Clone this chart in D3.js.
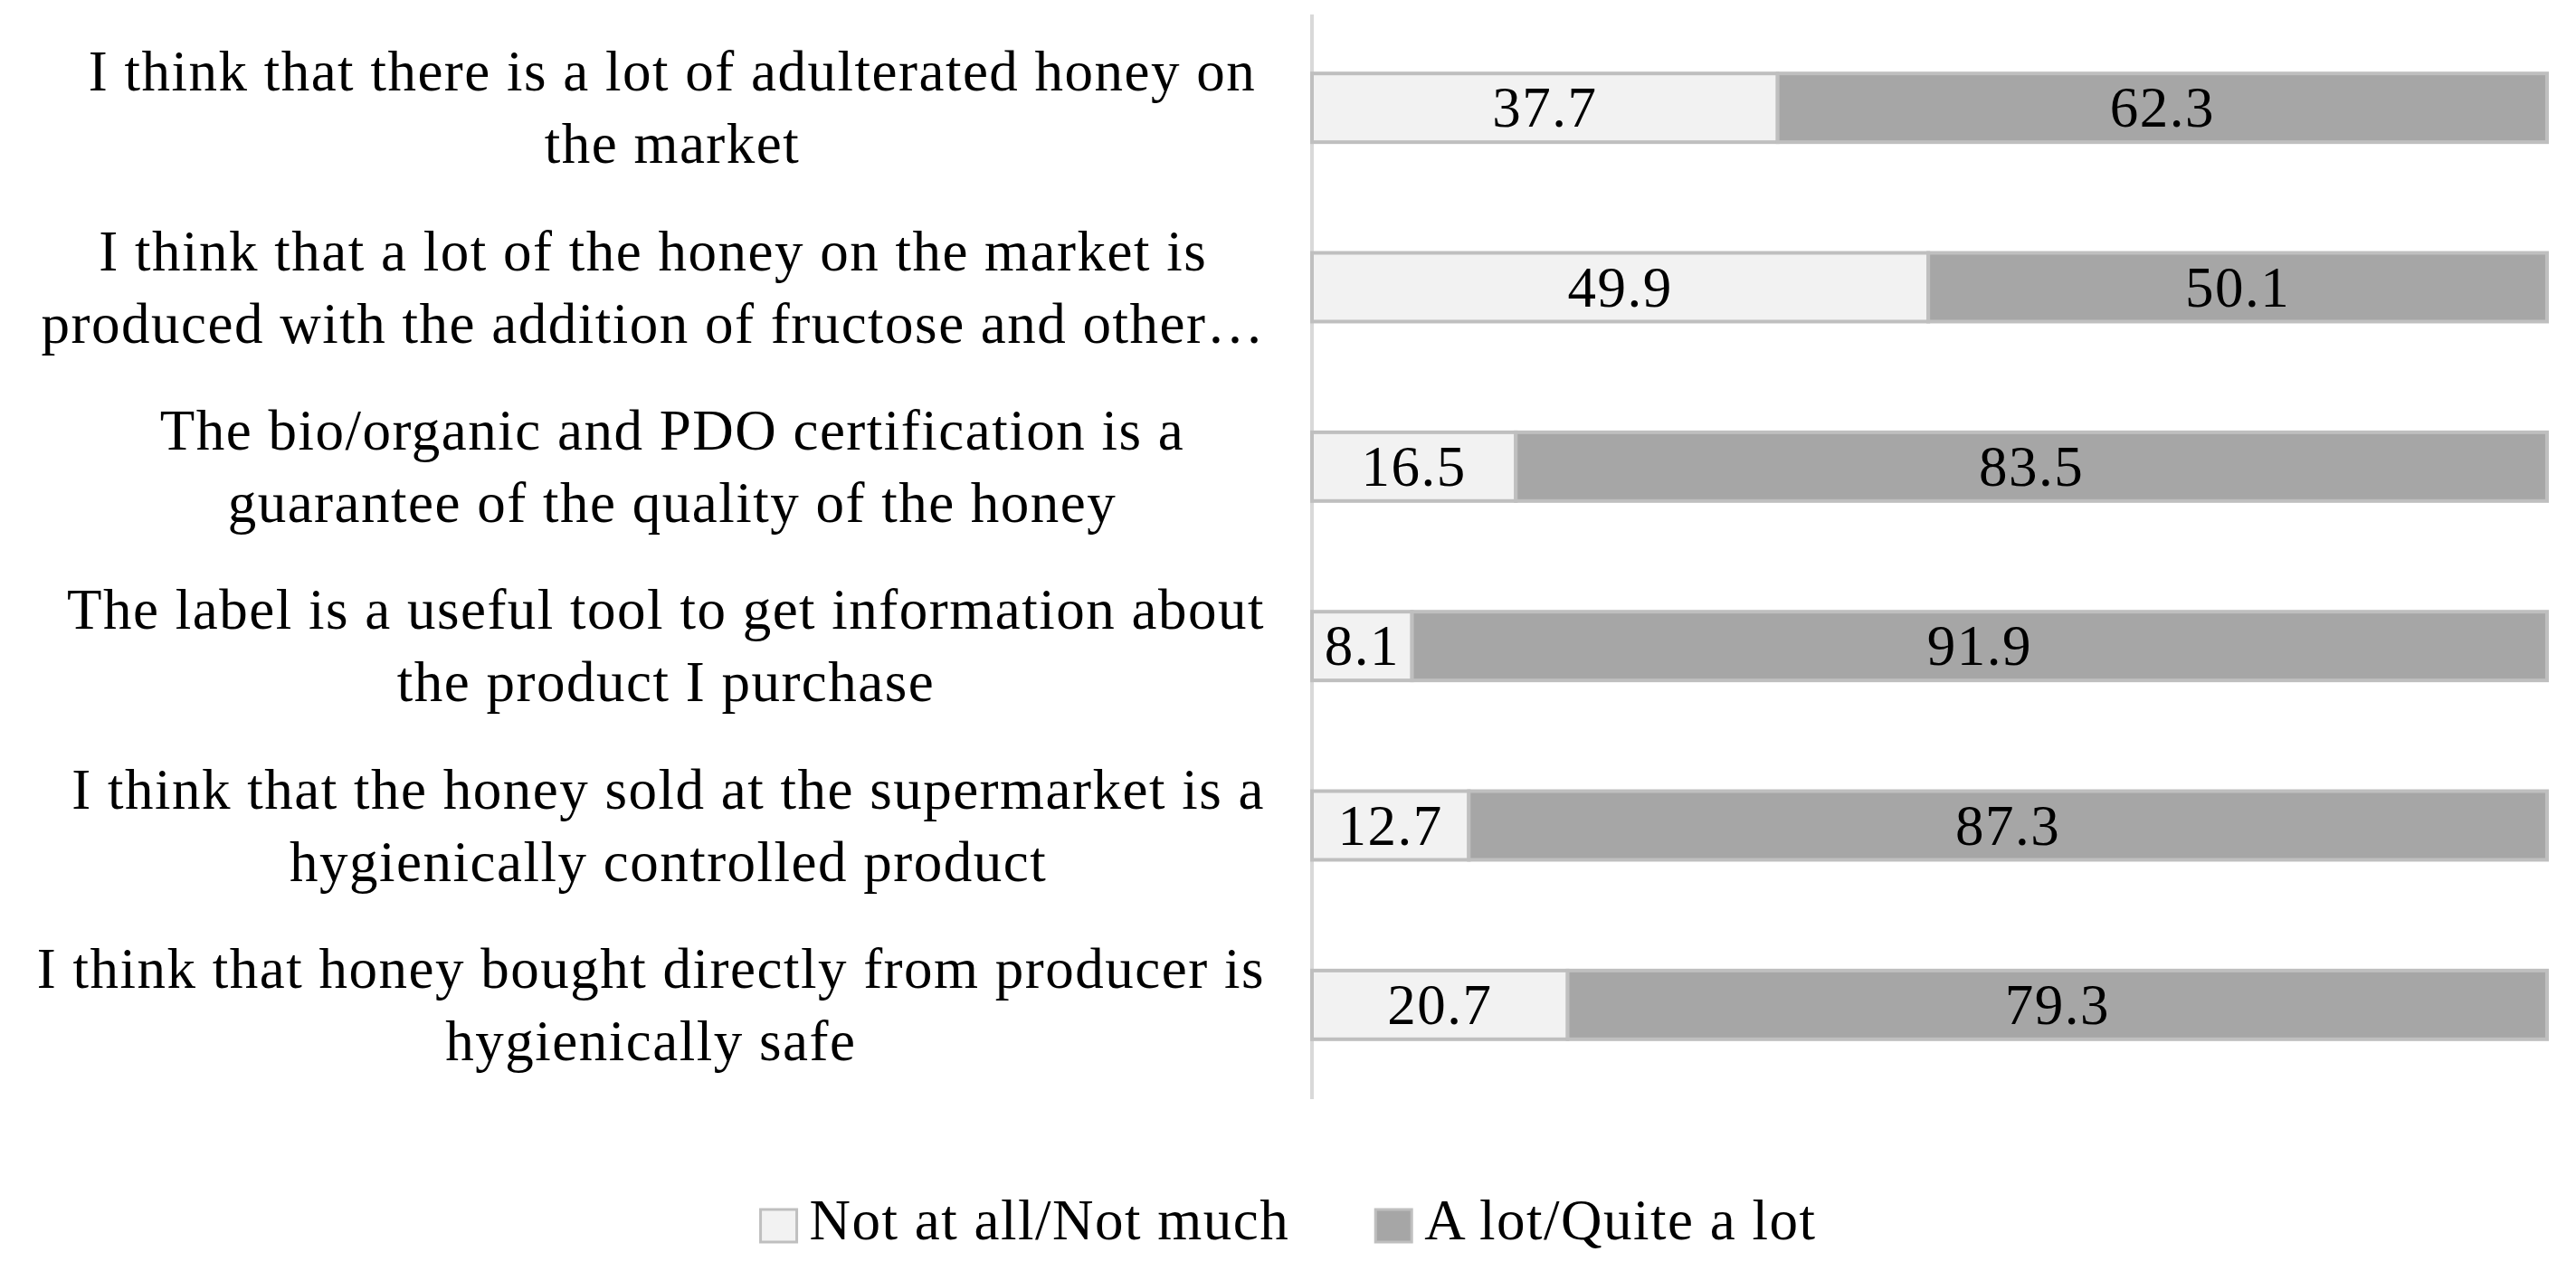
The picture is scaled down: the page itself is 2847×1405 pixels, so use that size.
<!DOCTYPE html>
<html>
<head>
<meta charset="utf-8">
<script src="https://cdn.jsdelivr.net/npm/d3@7"></script>
<style>
  html, body { margin: 0; padding: 0; background: #fff; }
  svg { display: block; }
  text { font-family: "Liberation Serif", "Times New Roman", serif; fill: #000; }
</style>
</head>
<body>
<svg class="chart"></svg>
<script>
const [width, height] = [2847, 1405]

// Statements, already wrapped the way the chart shows them.
const categories = [
	['I think that there is a lot of adulterated honey on', 'the market'],
	['I think that a lot of the honey on the market is', 'produced with the addition of fructose and other\u2026'],
	['The bio/organic and PDO certification is a', 'guarantee of the quality of the honey'],
	['The label is a useful tool to get information about', 'the product I purchase'],
	['I think that the honey sold at the supermarket is a', 'hygienically controlled product'],
	['I think that honey bought directly from producer is', 'hygienically safe'],
]
const notMuch = [37.7, 49.9, 16.5, 8.1, 12.7, 20.7]
const aLot = [62.3, 50.1, 83.5, 91.9, 87.3, 79.3]
const seriesNames = ['Not at all/Not much', 'A lot/Quite a lot']
const seriesColors = ['#f2f2f2', '#a6a6a6']

const fontSize = 63
const spacing = '1.5px'

const svg = d3.select('svg.chart')
	.attr('width', width)
	.attr('height', height)

const x = d3.scaleLinear()
	.domain([0, 100])
	.range([1450, 2815])

const y = d3.scaleBand()
	.domain(d3.range(categories.length))
	.range([20, 1210])
	.paddingInner(0.617)
	.paddingOuter(0.3085)

// category axis, just the line
svg.append('g')
	.attr('transform', `translate(${x(0)},0)`)
	.call(d3.axisLeft(y).tickSize(0).tickFormat(''))
	.call(g => g.select('.domain')
		.attr('stroke', '#d9d9d9')
		.attr('stroke-width', 4)
		.attr('d', 'M0,16V1215'))

const rows = categories.map((c, i) => ({ i, parts: [notMuch[i], aLot[i]] }))

const row = svg.selectAll('g.row')
		.data(rows)
	.enter().append('g')
		.attr('class', 'row')

row.selectAll('rect')
		.data(d => {
			let acc = 0
			return d.parts.map((v, k) => {
				const seg = { i: d.i, k, v, x0: acc, x1: acc + v }
				acc += v
				return seg
			})
		})
	.enter().append('rect')
		.attr('x', d => x(d.x0))
		.attr('y', d => y(d.i))
		.attr('width', d => x(d.x1) - x(d.x0))
		.attr('height', y.bandwidth())
		.attr('fill', d => seriesColors[d.k])
		.attr('stroke', '#bfbfbf')
		.attr('stroke-width', 4)

row.selectAll('text.value')
		.data(d => {
			let acc = 0
			return d.parts.map((v, k) => {
				const seg = { i: d.i, v, mid: acc + v / 2 }
				acc += v
				return seg
			})
		})
	.enter().append('text')
		.attr('class', 'value')
		.attr('x', d => x(d.mid))
		.attr('y', d => y(d.i) + y.bandwidth() / 2 + 21)
		.attr('text-anchor', 'middle')
		.attr('font-size', fontSize)
		.attr('letter-spacing', spacing)
		.text(d => d.v.toFixed(1))

// wrapped category labels, centred in the label area
const labelCenter = 743
const labelRight = 1398
const lineGap = 80

const labels = svg.selectAll('g.label')
		.data(categories)
	.enter().append('g')
		.attr('class', 'label')

labels.each(function (lines, i) {
	const g = d3.select(this)
	const texts = lines.map((line, j) => g.append('text')
		.attr('y', y(i) + y.bandwidth() / 2 + 21 + (j - (lines.length - 1) / 2) * lineGap)
		.attr('text-anchor', 'middle')
		.attr('font-size', fontSize)
		.attr('letter-spacing', spacing)
		.text(line))
	const w = d3.max(texts, t => t.node().getComputedTextLength())
	const cx = Math.min(labelCenter, labelRight - w / 2)
	texts.forEach(t => t.attr('x', cx))
})

// legend
const legend = svg.append('g')
	.attr('class', 'legend')

const items = legend.selectAll('g')
		.data(seriesNames)
	.enter().append('g')

items.append('rect')
	.attr('width', 40)
	.attr('height', 36)
	.attr('y', 1337)
	.attr('fill', (d, k) => seriesColors[k])
	.attr('stroke', '#bfbfbf')
	.attr('stroke-width', 3)

items.append('text')
	.attr('x', 54)
	.attr('y', 1370)
	.attr('font-size', fontSize)
	.attr('letter-spacing', spacing)
	.text(d => d)

let offset = 0
const widths = []
items.each(function () {
	const w = 54 + d3.select(this).select('text').node().getComputedTextLength()
	widths.push(w)
})
const gap = 95
const total = d3.sum(widths) + gap * (widths.length - 1)
offset = 1424 - total / 2
items.attr('transform', (d, k) => {
	const t = `translate(${offset},0)`
	offset += widths[k] + gap
	return t
})
</script>
</body>
</html>
